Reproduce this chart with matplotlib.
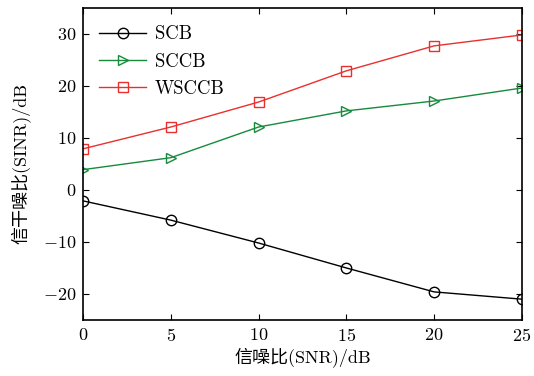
import numpy as np
import matplotlib.pyplot as plt

plt.rcParams['font.family'] = ['cmr10', 'Noto Sans CJK SC', 'DejaVu Serif']
plt.rcParams['axes.formatter.use_mathtext'] = True
plt.rcParams['mathtext.fontset'] = 'cm'

# datos
snr = [0, 5, 10, 15, 20, 25]
scb = [-2.1, -5.8, -10.2, -15.0, -19.6, -21.0]
sccb = [3.9, 6.2, 12.1, 15.2, 17.1, 19.6]
wsccb = [7.9, 12.1, 16.9, 22.9, 27.7, 29.8]

fig = plt.figure(figsize=(5.34, 3.76), dpi=100)
ax = fig.add_axes([0.1554, 0.149, 0.822, 0.830])

ax.plot(snr, scb, color='black', lw=1, marker='o', ms=7.5, mfc='none', label='SCB')
ax.plot(snr, sccb, color='#178a3c', lw=1, marker='>', ms=7.5, mfc='none', label='SCCB')
ax.plot(snr, wsccb, color='#e8302e', lw=1, marker='s', ms=7.5, mfc='none', label='WSCCB')

ax.set_xlim(0, 25)
ax.set_ylim(-25, 35)
ax.set_xticks([0, 5, 10, 15, 20, 25])
ax.set_yticks([-20, -10, 0, 10, 20, 30])
ax.tick_params(direction='in', top=True, right=True, labelsize=13, length=4, pad=5)
for s in ax.spines.values():
    s.set_linewidth(1.2)

ax.set_xlabel('信噪比(SNR)/dB', fontsize=13, labelpad=3)
ax.set_ylabel('信干噪比(SINR)/dB', fontsize=13, labelpad=8)
ax.legend(loc='upper left', frameon=False, fontsize=13.5, handlelength=2.5,
          handletextpad=0.45, bbox_to_anchor=(0.02, 0.968), borderaxespad=0,
          labelspacing=0.5)

plt.savefig('out.png', dpi=100)
